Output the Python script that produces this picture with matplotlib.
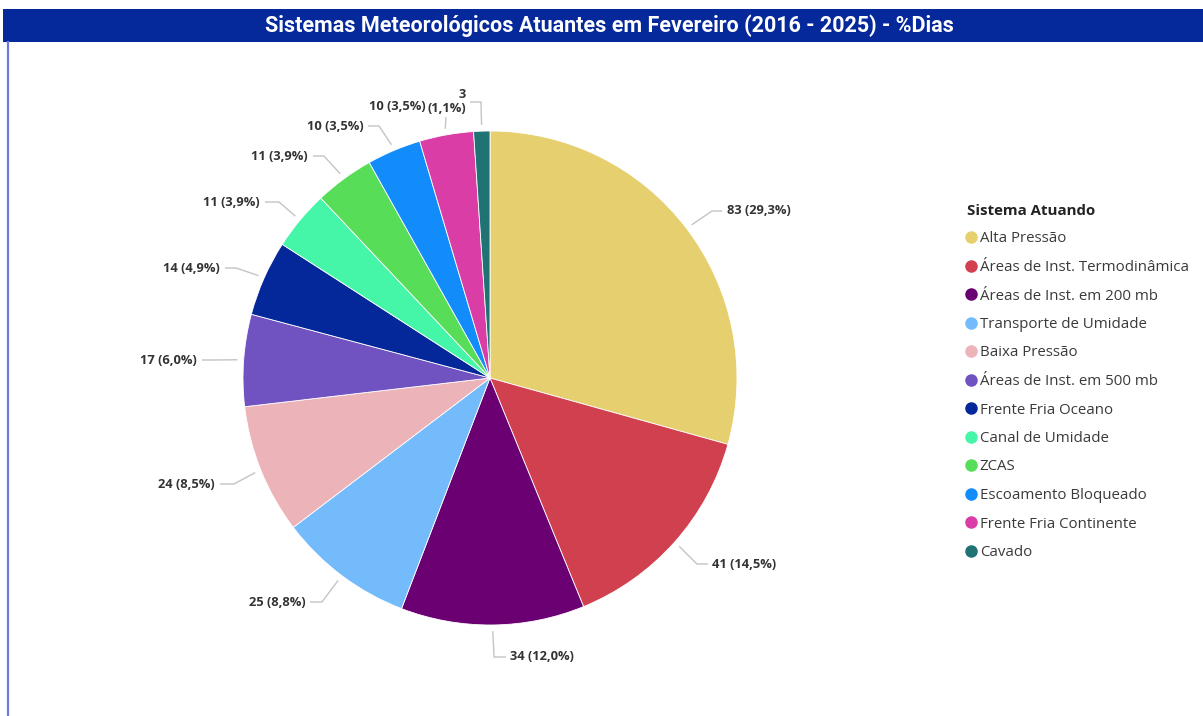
import matplotlib
matplotlib.use("Agg")
import matplotlib.pyplot as plt
from matplotlib.patches import Rectangle
from matplotlib.lines import Line2D
import numpy as np

# ---------------- data ----------------
categories = ["Alta Pressão", "Áreas de Inst. Termodinâmica", "Áreas de Inst. em 200 mb",
              "Transporte de Umidade", "Baixa Pressão", "Áreas de Inst. em 500 mb",
              "Frente Fria Oceano", "Canal de Umidade", "ZCAS", "Escoamento Bloqueado",
              "Frente Fria Continente", "Cavado"]
days = [83, 41, 34, 25, 24, 17, 14, 11, 11, 10, 10, 3]
colors = ["#E6CF6E", "#D1404F", "#6A0072", "#74BBFB", "#ECB3B9", "#7052C0",
          "#04279A", "#45F5A8", "#57DD57", "#138CFB", "#DA3DA6", "#1F7373"]
title = "Sistemas Meteorológicos Atuantes em Fevereiro (2016 - 2025) - %Dias"
legend_title = "Sistema Atuando"

# ---------------- layout ----------------
W, H = 1203, 716
DPI = 100
CX, CY, R = 490, 378, 247  # pie center / radius in pixels

fig = plt.figure(figsize=(W / DPI, H / DPI), dpi=DPI)
fig.patch.set_facecolor("white")

# title bar
fig.patches.append(Rectangle((3 / W, 1 - 42 / H), 1 - 3 / W, 33 / H,
                             transform=fig.transFigure, facecolor="#05289A",
                             edgecolor="none", zorder=0))
fig.text(609 / W, 1 - 26 / H, title, color="white", fontsize=15.5,
         fontweight="bold", family="Roboto", stretch="condensed",
         ha="center", va="center")
# left border
fig.add_artist(Line2D([7.5 / W, 7.5 / W], [0, 1 - 42 / H], transform=fig.transFigure,
                      color="#6D7BD8", lw=1.6))

half = 1.2
ax = fig.add_axes([(CX - half * R) / W, (H - CY - half * R) / H, 2 * half * R / W, 2 * half * R / H])

wedges, _ = ax.pie(days, colors=colors, startangle=90, counterclock=False, radius=1,
                   wedgeprops=dict(edgecolor="white", linewidth=0.6))
ax.set_xlim(-half, half)
ax.set_ylim(-half, half)
ax.set_aspect("equal")
ax.axis("off")

total = sum(days)


def px2d(px, py):
    return (px - CX) / R, (CY - py) / R


# label layout per slice: elbow (ex, ey), line end lx, text (tx, ty), ha
label_layout = [
    (712, 211, 722, 727, 211, "left"),
    (697, 564, 708, 712, 564, "left"),
    (494, 657, 506, 510, 657, "left"),
    (322, 602, 310, 306, 602, "right"),
    (234, 484, 220, 215, 484, "right"),
    (215, 360, 202, 197, 360, "right"),
    (236, 268, 225, 220, 268, "right"),
    (279, 202, 265, 260, 202, "right"),
    (324, 156, 313, 308, 156, "right"),
    (379, 126, 368, 364, 126, "right"),
    (446, 117, 446, 426, 106, "right"),
    (481, 102, 470, 466, 102, "right"),
]

line_col = "#C4C4C4"
for w, v, (ex, ey, lx, tx, ty, ha) in zip(wedges, days, label_layout):
    mid = np.deg2rad((w.theta1 + w.theta2) / 2)
    ax0, ay0 = 1.025 * np.cos(mid), 1.025 * np.sin(mid)
    exd, eyd = px2d(ex, ey)
    lxd, _ = px2d(lx, ey)
    ax.plot([ax0, exd, lxd], [ay0, eyd, eyd], color=line_col, lw=1.0, clip_on=False,
            solid_capstyle="butt")
    pct = f"{100 * v / total:.1f}".replace(".", ",")
    txt = f"{v} ({pct}%)"
    if v == min(days):
        txt = f"{v}\n({pct}%)"
    txd, tyd = px2d(tx, ty)
    ax.text(txd, tyd, txt, ha=ha, va="center", fontsize=9.3, fontweight="bold",
            family="Open Sans", color="#333333", clip_on=False, linespacing=1.1)

handles = [Line2D([], [], marker="o", linestyle="none", markersize=8,
                  markerfacecolor=c, markeredgecolor=c) for c in colors]
leg = fig.legend(handles, categories, title=legend_title, loc="upper left",
                 bbox_to_anchor=(967 / W, 1 - 204 / H), frameon=False,
                 prop=dict(family="Open Sans", size=10.8), alignment="left",
                 handlelength=0.55, handletextpad=0.3, labelspacing=0.90,
                 borderaxespad=0, borderpad=0)
leg.get_title().set_fontweight("bold")
leg.get_title().set_fontsize(10.8)
leg.get_title().set_family("Open Sans")
leg.get_title().set_color("#222222")
for t in leg.get_texts():
    t.set_color("#3A3A3A")

fig.savefig("out.png", dpi=DPI)
